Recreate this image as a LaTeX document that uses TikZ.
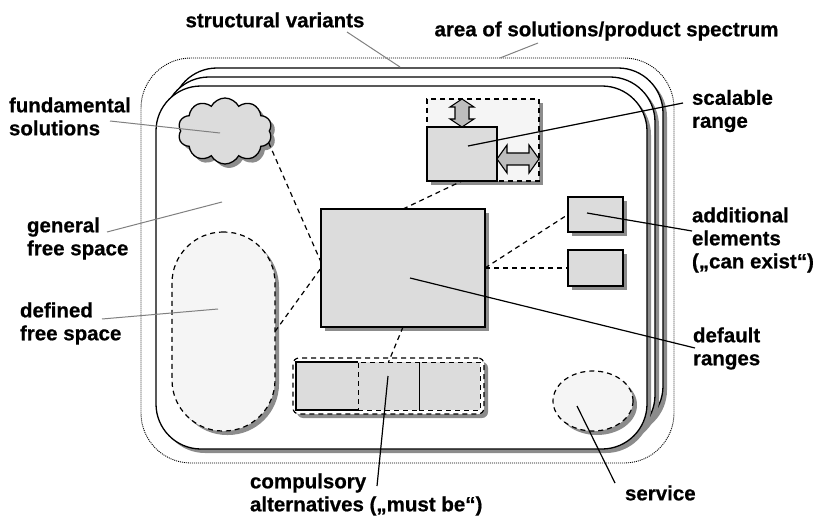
\documentclass[tikz,border=0pt]{standalone}
\usepackage{fontspec}
\setmainfont{Liberation Sans}[BoldFont={Liberation Sans Bold},BoldFeatures={FakeBold=0.6}]
\usetikzlibrary{shapes.geometric,shapes.symbols,shadows,calc}
\definecolor{boxfill}{HTML}{DCDCDC}
\definecolor{lightfill}{HTML}{F5F5F5}
\definecolor{shadowc}{HTML}{8C8C8C}
\definecolor{calloutg}{HTML}{808080}
\definecolor{arrowfill}{HTML}{BDBDBD}
\begin{document}
\begin{tikzpicture}[x=1pt,y=-1pt,
  every node/.style={inner sep=0pt,outer sep=0pt},
  shad/.style={drop shadow={shadow xshift=4pt,shadow yshift=-4pt,fill=shadowc,opacity=1}},
  layerbox/.style={draw,line width=1.3pt,fill=white,rectangle,rounded corners=45pt,
    minimum width=491pt,minimum height=363pt,shad},
  greybox/.style={draw,line width=1.3pt,fill=boxfill,rectangle},
  dashline/.style={dash pattern=on 5pt off 4pt,line width=1.2pt},
  lbl/.style={font=\fontsize{20.5}{23}\selectfont\bfseries,align=left,anchor=west},
  callg/.style={draw=calloutg,line width=1pt},
  callk/.style={draw=black,line width=1.2pt},
  arrowshape/.style={draw,line width=1.1pt,fill=arrowfill,line join=miter},
]
\useasboundingbox (0,0) rectangle (814,516);

% area of solutions (dotted)
\node[draw,line width=0.9pt,dash pattern=on 1pt off 1pt,rectangle,rounded corners=50pt,
  minimum width=533pt,minimum height=405pt] (area) at (407.5,260.5) {};

% stacked structural variants
\node[layerbox] (back) at (417.5,249.5) {};
\node[layerbox] (mid) at (409.5,258.5) {};
\node[layerbox] (front) at (401.5,267.5) {};

% fundamental solutions (cloud)
\node[cloud,cloud puffs=10,cloud puff arc=125,aspect=1.4,draw,line width=1.3pt,fill=boxfill,
  minimum width=94pt,minimum height=66pt,shad] (cloud) at (225,131) {};

% defined free space (stadium)
\node[rectangle,rounded corners=51pt,draw,dashline,fill=lightfill,
  minimum width=103pt,minimum height=199pt,shad] (stad) at (223.5,331.5) {};

% scalable range
\node[rectangle,draw,dashline,fill=lightfill,minimum width=112pt,minimum height=82pt,shad] (scalebg) at (483,140) {};
\node[greybox,minimum width=70pt,minimum height=54pt] (scale) at (462,154) {};
\draw[arrowshape] (462,99) -- (474,107) -- (469,107) -- (469,119) -- (474,119) -- (462,127)
  -- (450,119) -- (455,119) -- (455,107) -- (450,107) -- cycle;
\draw[arrowshape] (497,159) -- (507,145) -- (507,153) -- (529,153) -- (529,145) -- (539,159)
  -- (529,173) -- (529,165) -- (507,165) -- (507,173) -- cycle;

% default ranges
\node[greybox,minimum width=164pt,minimum height=118pt,shad] (def) at (403,268) {};

% additional elements
\node[greybox,minimum width=55pt,minimum height=35pt,shad] (add1) at (595.5,214.5) {};
\node[greybox,minimum width=55pt,minimum height=36pt,shad] (add2) at (595.5,268) {};

% compulsory alternatives
\node[rectangle,rounded corners=6pt,draw,dashline,fill=white,minimum width=191pt,minimum height=56pt,shad] (comp) at (388.5,386) {};
\node[rectangle,fill=boxfill,minimum width=62pt,minimum height=48pt] (seg1) at (327,386) {};
\node[rectangle,fill=boxfill,draw,dashline,line width=1pt,minimum width=61pt,minimum height=48pt] (seg2) at (388.5,386) {};
\node[rectangle,fill=boxfill,draw,dashline,line width=1pt,minimum width=61pt,minimum height=48pt] (seg3) at (449.5,386) {};
\draw[line width=1.3pt] (seg1.north east) -- (seg1.north west) -- (seg1.south west) -- (seg1.south east);
\draw[line width=1pt] (seg3.north west) -- (seg3.south west);

% service
\node[ellipse,draw,dashline,fill=lightfill,minimum width=80pt,minimum height=60pt,shad] (serv) at (593,401) {};

% dashed relations
\draw[dashline] (cloud.-15) -- ($(def.north west)!0.45!(def.south west)$);
\draw[dashline] (stad.east) -- ($(def.north west)!0.5!(def.south west)$);
\draw[dashline] (def.north) -- (scale.south);
\draw[dashline] (def.east) -- (add1.west);
\draw[dashline] (def.east) -- (add2.west);
\draw[dashline] (def.south) -- (seg2.north);

% labels
\node[lbl,anchor=center] (svl) at (275,20) {structural variants};
\node[lbl,anchor=center] (asl) at (606.5,31) {area of solutions/product spectrum};
\node[lbl] (fsl) at (9,116.5) {fundamental\\solutions};
\node[lbl] (gfl) at (27,238.5) {general\\free space};
\node[lbl] (dfl) at (20,323.5) {defined\\free space};
\node[lbl] (srl) at (692,111) {scalable\\range};
\node[lbl] (ael) at (692,240) {additional\\elements\\(„can exist“)};
\node[lbl] (drl) at (693,348.5) {default\\ranges};
\node[lbl] (svc) at (625,493) {service};
\node[lbl] (cal) at (250,494.5) {compulsory\\alternatives („must be“)};

% callout ends
\coordinate (svA) at (347,32);   \coordinate (svB) at (400,67);
\coordinate (asA) at (538,43);   \coordinate (asB) at (500,58);
\coordinate (fsA) at (110,121);  \coordinate (fsB) at (220,133);
\coordinate (gfA) at (107,232);  \coordinate (gfB) at (222,202);
\coordinate (dfA) at (102,319);  \coordinate (dfB) at (218,309);
\coordinate (srA) at (683,103);  \coordinate (srB) at (468,146);
\coordinate (aeA) at (692,231);  \coordinate (aeB) at (587,213);
\coordinate (drA) at (695,348);  \coordinate (drB) at (410,278);
\coordinate (seA) at (615,483);  \coordinate (seB) at (577,406);
\coordinate (caA) at (377,486);  \coordinate (caB) at (388,376);

\draw[callg] (svA) -- (svB);
\draw[callg] (asA) -- (asB);
\draw[callg] (fsA) -- (fsB);
\draw[callg] (gfA) -- (gfB);
\draw[callg] (dfA) -- (dfB);
\draw[callk] (srA) -- (srB);
\draw[callk] (aeA) -- (aeB);
\draw[callk] (drA) -- (drB);
\draw[callk] (seA) -- (seB);
\draw[callk] (caA) -- (caB);
\end{tikzpicture}
\end{document}
